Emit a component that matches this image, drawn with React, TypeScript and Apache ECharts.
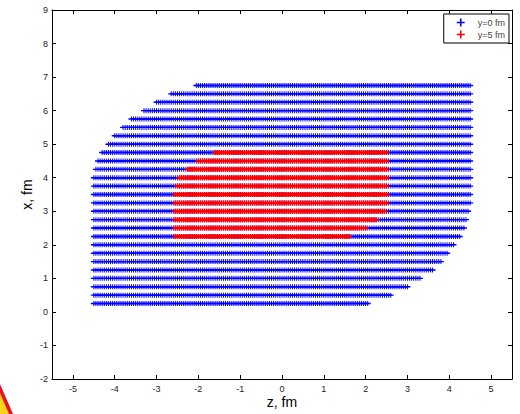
import React, { useEffect, useRef } from 'react';
import * as echarts from 'echarts';

// Row positions (x, fm) of the grid, bottom to top
const rowX = [0.25, 0.5, 0.75, 1.0, 1.25, 1.5, 1.75, 2.0, 2.25, 2.5, 2.75, 3.0, 3.25, 3.5,
  3.75, 4.0, 4.25, 4.5, 4.75, 5.0, 5.25, 5.5, 5.75, 6.0, 6.25, 6.5, 6.75];
// y=0 fm: extent of each row along z
const blueZMin = [-4.5, -4.5, -4.5, -4.5, -4.5, -4.5, -4.5, -4.5, -4.5, -4.5, -4.5, -4.5, -4.5, -4.5,
  -4.5, -4.5, -4.45, -4.4, -4.3, -4.15, -4.0, -3.8, -3.6, -3.3, -3.0, -2.65, -2.05];
const blueZMax = [2.05, 2.6, 3.0, 3.3, 3.6, 3.8, 3.95, 4.1, 4.25, 4.35, 4.4, 4.45, 4.5, 4.5,
  4.5, 4.5, 4.5, 4.5, 4.5, 4.5, 4.5, 4.5, 4.5, 4.5, 4.5, 4.5, 4.5];
// y=5 fm rows
const redRowX = [2.25, 2.5, 2.75, 3.0, 3.25, 3.5, 3.75, 4.0, 4.25, 4.5, 4.75];
const redZMin = [-2.55, -2.55, -2.55, -2.55, -2.55, -2.55, -2.5, -2.45, -2.25, -2.0, -1.6];
const redZMax = [1.6, 2.0, 2.25, 2.45, 2.5, 2.5, 2.5, 2.5, 2.5, 2.5, 2.5];
// grid spacing along z
const zStep = 0.05;

const xTickValues = [-5, -4, -3, -2, -1, 0, 1, 2, 3, 4, 5];
const seriesNames = ['y=0 fm', 'y=5 fm'];

function gridPoints(rows: number[], zMin: number[], zMax: number[]): number[][] {
  const pts: number[][] = [];
  rows.forEach((x, r) => {
    const i0 = Math.round(zMin[r] / zStep);
    const i1 = Math.round(zMax[r] / zStep);
    for (let i = i0; i <= i1; i++) {
      pts.push([Math.round(i * zStep * 100) / 100, x]);
    }
  });
  return pts;
}

const PLUS = 'path://M2.5,0H3.5V1.8H6V3.2H3.5V5H2.5V3.2H0V1.8H2.5Z';
const PLUS_TOP = 'path://M2.2,0H3.8V1.6H6V3.4H3.8V5H2.2V3.4H0V1.6H2.2Z';
const LEGEND_PLUS = 'path://M3.2,0H4.8V3.2H8V4.8H4.8V8H3.2V4.8H0V3.2H3.2Z';
const FONT = '"Liberation Sans", Arial, Helvetica, sans-serif';

export default function App() {
  const ref = useRef<HTMLDivElement>(null);
  useEffect(() => {
    document.body.style.margin = '0';
    const chart = echarts.init(ref.current!, null, { renderer: 'svg' });
    const axisLine = { show: true, onZero: false, lineStyle: { color: '#000', width: 1 } };
    chart.setOption({
      animation: false,
      backgroundColor: '#fff',
      grid: { left: 52, right: 8, top: 10, bottom: 33, containLabel: false },
      legend: {
        data: seriesNames.map((n) => ({ name: n, icon: LEGEND_PLUS })),
        orient: 'vertical',
        right: 11,
        top: 14,
        backgroundColor: '#fff',
        borderColor: '#000',
        borderWidth: 1,
        borderRadius: 0,
        padding: [4, 4, 4, 13],
        itemGap: 3,
        itemWidth: 8,
        itemHeight: 8,
        selectedMode: false,
        textStyle: { fontSize: 9, color: '#444', fontFamily: FONT, padding: [0, 0, 0, 8] },
      },
      xAxis: [
        {
          type: 'value', min: -5.5, max: 5.5, position: 'bottom',
          axisLine,
          axisTick: { show: true, inside: true, length: 4, customValues: xTickValues, lineStyle: { color: '#000' } },
          axisLabel: { customValues: xTickValues, fontSize: 9, color: '#222', margin: 5, fontFamily: FONT },
          splitLine: { show: false },
          name: 'z, fm', nameLocation: 'middle', nameGap: 16, nameMoveOverlap: false,
          nameTextStyle: { fontSize: 14, color: '#000', fontFamily: FONT },
        },
        {
          type: 'value', min: -5.5, max: 5.5, position: 'top',
          axisLine,
          axisTick: { show: true, inside: true, length: 4, customValues: xTickValues, lineStyle: { color: '#000' } },
          axisLabel: { show: false },
          splitLine: { show: false },
        },
      ],
      yAxis: [
        {
          type: 'value', min: -2, max: 9, interval: 1, position: 'left',
          axisLine,
          axisTick: { show: true, inside: true, length: 4, lineStyle: { color: '#000' } },
          axisLabel: { fontSize: 9, color: '#222', margin: 4, fontFamily: FONT },
          splitLine: { show: false },
          name: 'x, fm', nameLocation: 'middle', nameGap: 18, nameMoveOverlap: false,
          nameTextStyle: { fontSize: 14, color: '#000', fontFamily: FONT },
        },
        {
          type: 'value', min: -2, max: 9, interval: 1, position: 'right',
          axisLine,
          axisTick: { show: true, inside: true, length: 4, lineStyle: { color: '#000' } },
          axisLabel: { show: false },
          splitLine: { show: false },
        },
      ],
      series: [
        {
          name: seriesNames[0], type: 'scatter', xAxisIndex: 0, yAxisIndex: 0,
          data: gridPoints(rowX, blueZMin, blueZMax),
          symbol: PLUS, symbolSize: [6, 5],
          itemStyle: { color: '#0000ff', opacity: 1 },
          silent: true, progressive: 0, large: false,
        },
        {
          name: seriesNames[1], type: 'scatter', xAxisIndex: 0, yAxisIndex: 0,
          data: gridPoints(redRowX, redZMin, redZMax),
          symbol: PLUS_TOP, symbolSize: [6, 5],
          itemStyle: { color: '#ff0000', opacity: 1 },
          silent: true, progressive: 0, large: false,
        },
      ],
      graphic: [
        { type: 'polygon', shape: { points: [[0, 384], [13, 414], [0, 414]] }, style: { fill: '#e8141c' }, silent: true },
        { type: 'polygon', shape: { points: [[0, 393], [9, 414], [0, 414]] }, style: { fill: '#ffd21e' }, silent: true },
      ],
    });
    return () => chart.dispose();
  }, []);
  return <div ref={ref} style={{ width: 520, height: 414 }} />;
}
